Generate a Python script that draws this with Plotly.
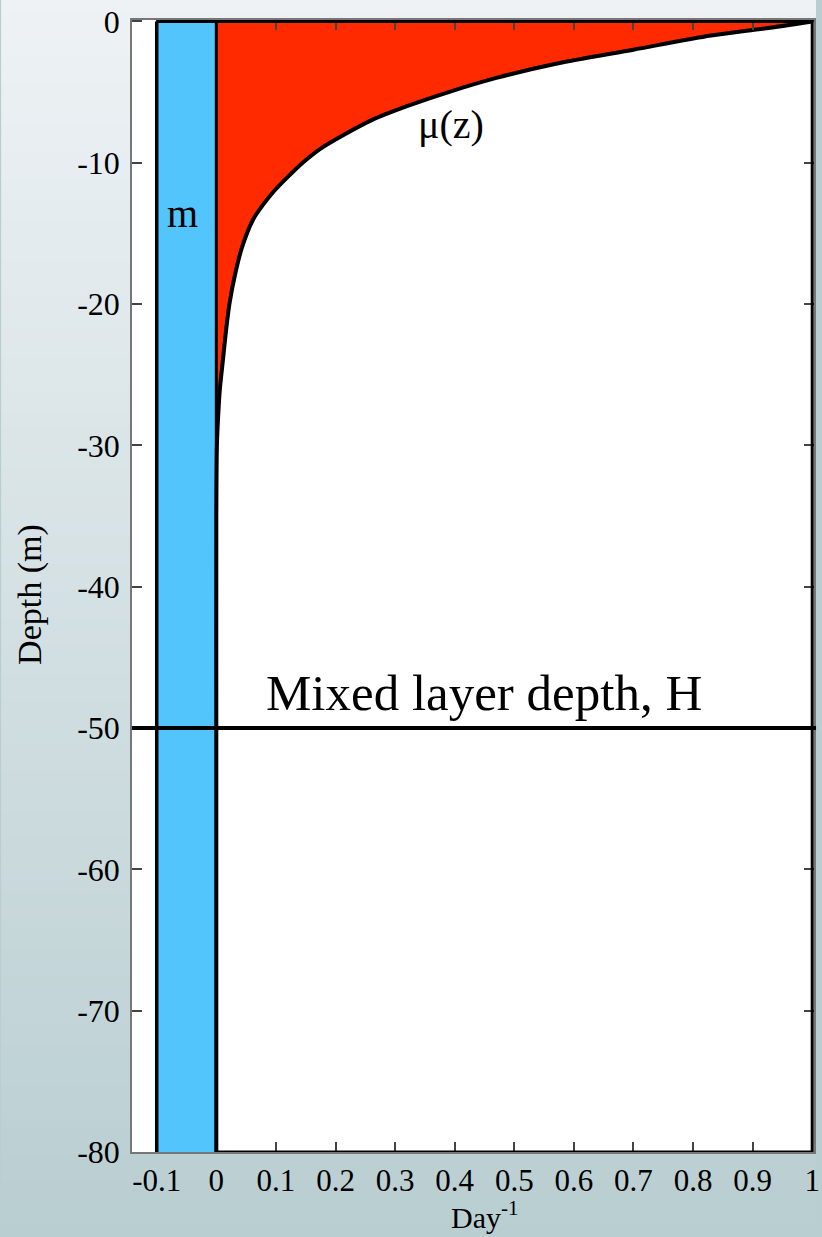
import plotly.graph_objects as go

# Growth rate profile mu(z) (day^-1) against depth (m)
depth = [0, -0.5, -1, -2, -3, -4, -5, -6, -7, -8, -9, -10, -11, -12, -13, -14,
         -16, -18, -20, -22, -24, -26, -28, -30, -35, -50, -80]
mu = [1.0, 0.92, 0.83, 0.70, 0.57, 0.47, 0.39, 0.32, 0.26, 0.215, 0.175, 0.145,
      0.12, 0.097, 0.078, 0.062, 0.043, 0.031, 0.022, 0.016, 0.011, 0.006, 0.003,
      0.001, 0.0, 0.0, 0.0]

# Loss rate m, drawn to the left of zero
m_rate = 0.1
depth_range = [0, -80]
mixed_layer_depth = -50

x_ticks = [-0.1, 0, 0.1, 0.2, 0.3, 0.4, 0.5, 0.6, 0.7, 0.8, 0.9, 1.0]
x_tick_text = ["-0.1", "0", "0.1", "0.2", "0.3", "0.4", "0.5", "0.6", "0.7", "0.8", "0.9", "1"]
y_ticks = [0, -10, -20, -30, -40, -50, -60, -70, -80]
y_tick_text = ["0", "-10", "-20", "-30", "-40", "-50", "-60", "-70", "-80"]

SERIF = "Liberation Serif"

fig = go.Figure()

# Loss column
fig.add_trace(go.Scatter(
    x=[-m_rate, 0, 0, -m_rate, -m_rate],
    y=[depth_range[0], depth_range[0], depth_range[1], depth_range[1], depth_range[0]],
    mode="lines", fill="toself", fillcolor="#52c5fd",
    line=dict(width=0), hoverinfo="skip", showlegend=False))

# Growth profile, filled to zero
fig.add_trace(go.Scatter(
    x=mu, y=depth, mode="lines", fill="tozerox", fillcolor="#ff2a00",
    line=dict(color="black", width=4, shape="spline", smoothing=0.8),
    hoverinfo="skip", showlegend=False))

# Background gradient for the page
W, H = 822, 1237
L, R, T, B = 132, 2, 20, 85
pw, ph = W - L - R, H - T - B
top_c = (238, 242, 245)
bot_c = (185, 206, 209)
shapes = []
n = 90
for i in range(n):
    f0, f1 = i / n, (i + 1) / n
    fm = (f0 + f1) / 2
    c = tuple(round(top_c[k] + (bot_c[k] - top_c[k]) * fm) for k in range(3))
    y_top_px = f0 * H
    y_bot_px = f1 * H + 1
    shapes.append(dict(
        type="rect", xref="paper", yref="paper", layer="below",
        x0=-L / pw, x1=(W - L) / pw,
        y0=(H - B - y_bot_px) / ph, y1=(H - B - y_top_px) / ph,
        fillcolor="rgb(%d,%d,%d)" % c, line=dict(width=0)))
# White plotting area
shapes.append(dict(type="rect", xref="paper", yref="paper", layer="below",
                   x0=0, x1=1, y0=0, y1=1, fillcolor="white", line=dict(width=0)))

# Black outlines
shapes += [
    dict(type="rect", xref="x", yref="y", layer="above",
         x0=0, x1=1, y0=depth_range[1], y1=depth_range[0],
         line=dict(color="black", width=3)),
    dict(type="line", xref="x", yref="y", layer="above",
         x0=-m_rate, x1=-m_rate, y0=depth_range[1], y1=depth_range[0],
         line=dict(color="black", width=3.5)),
    dict(type="line", xref="x", yref="y", layer="above",
         x0=-m_rate, x1=0, y0=depth_range[0], y1=depth_range[0],
         line=dict(color="black", width=3)),
    dict(type="line", xref="paper", yref="y", layer="above",
         x0=0, x1=1.003, y0=mixed_layer_depth, y1=mixed_layer_depth,
         line=dict(color="black", width=4)),
]

annotations = [
    dict(x=-0.056, y=-13.6, xref="x", yref="y", text="m", showarrow=False,
         font=dict(family=SERIF, size=40, color="black")),
    dict(x=0.393, y=-7.3, xref="x", yref="y", text="μ(z)", showarrow=False,
         font=dict(family=SERIF, size=40, color="black")),
    dict(x=0.449, y=-47.5, xref="x", yref="y", text="Mixed layer depth, H",
         showarrow=False, font=dict(family=SERIF, size=51, color="black")),
    dict(x=(29 - L) / pw, y=(H - B - 594) / ph, xref="paper", yref="paper",
         xanchor="center", yanchor="middle",
         text="Depth (m)", textangle=-90, showarrow=False,
         font=dict(family=SERIF, size=34, color="black")),
    dict(x=(488 - L) / pw, y=(H - B - 1236) / ph, xref="paper", yref="paper",
         xanchor="center", yanchor="bottom", text="Day<sup>-1</sup>", showarrow=False,
         font=dict(family=SERIF, size=30, color="black")),
]

fig.update_layout(
    width=W, height=H,
    margin=dict(l=L, r=R, t=T, b=B, pad=0),
    paper_bgcolor="rgb(%d,%d,%d)" % bot_c,
    plot_bgcolor="white",
    shapes=shapes,
    annotations=annotations,
    showlegend=False,
    xaxis=dict(range=[-0.1415, 1.003], tickvals=x_ticks, ticktext=x_tick_text,
               ticks="inside", ticklen=10, tickwidth=1.5, tickcolor="#444",
               showline=True, linecolor="#777", linewidth=1.5, mirror="ticks",
               showgrid=False, zeroline=False, ticklabeloverflow="allow",
               tickfont=dict(family=SERIF, size=31, color="black")),
    yaxis=dict(range=[-80, 0.1], tickvals=y_ticks, ticktext=y_tick_text,
               ticks="inside", ticklen=10, tickwidth=1.5, tickcolor="#444",
               showline=True, linecolor="#777", linewidth=1.5, mirror="ticks",
               showgrid=False, zeroline=False, ticklabelstandoff=4,
               tickfont=dict(family=SERIF, size=32, color="black")),
)

fig.write_html("out.html")
